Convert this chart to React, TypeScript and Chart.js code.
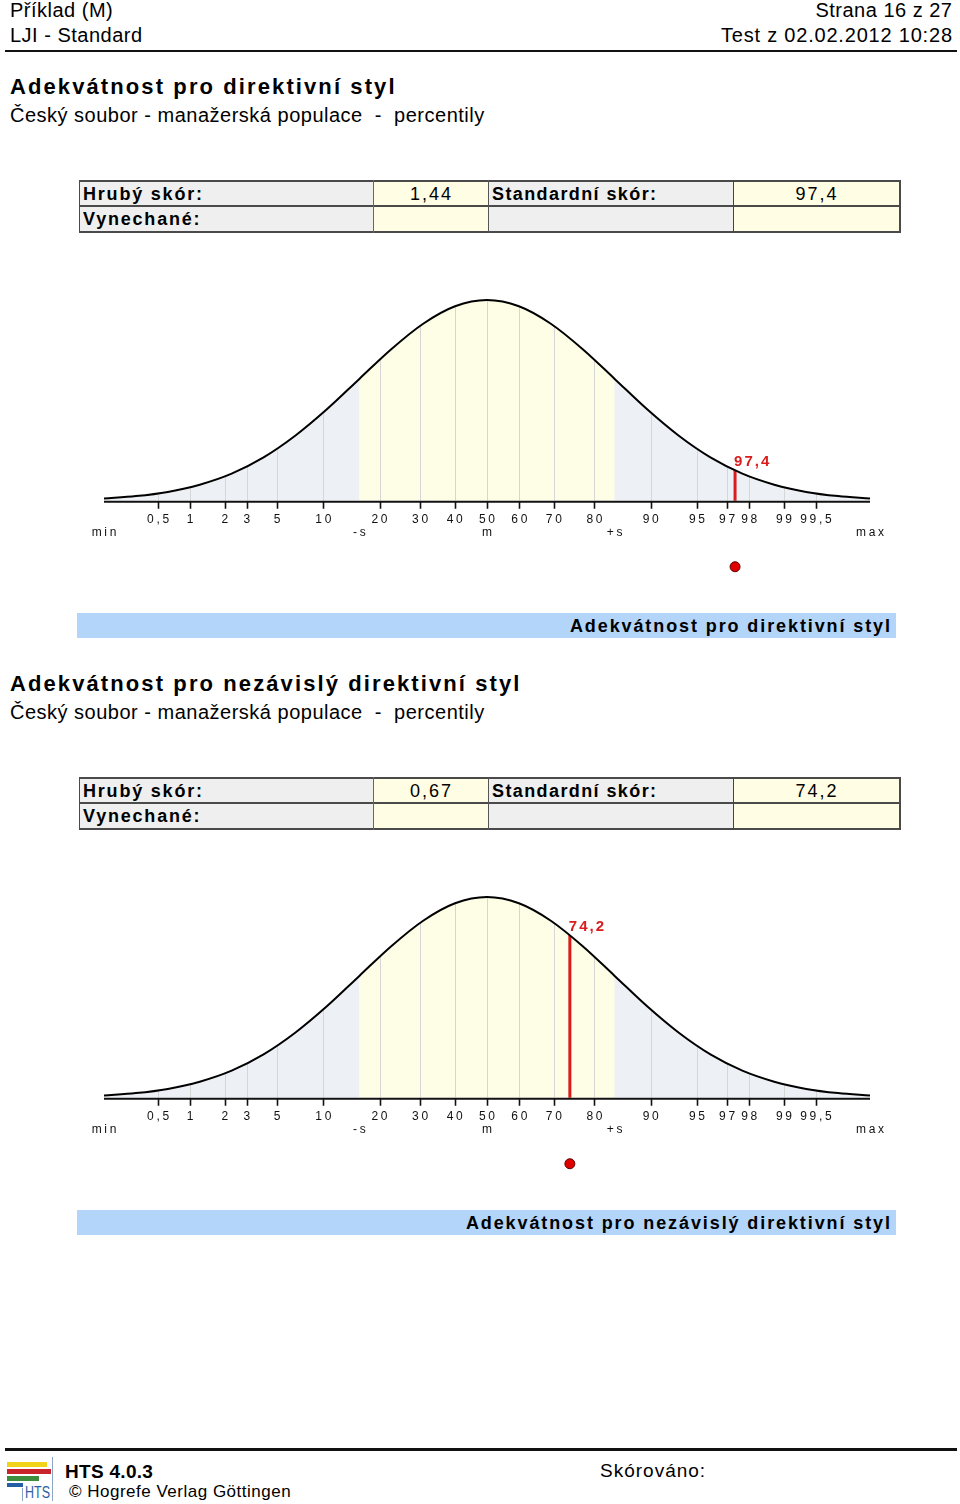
import React, { useEffect, useRef } from "react";
import { Chart, registerables } from "chart.js";

Chart.register(...registerables);

// ---------- data ----------
const curveZ = [-3, -2.75, -2.5, -2.25, -2, -1.75, -1.5, -1.25, -1, -0.75, -0.5, -0.25, 0, 0.25, 0.5, 0.75, 1, 1.25, 1.5, 1.75, 2, 2.25, 2.5, 2.75, 3];
const curveHeight = [0.011, 0.023, 0.044, 0.08, 0.135, 0.216, 0.325, 0.458, 0.607, 0.755, 0.882, 0.969, 1.0, 0.969, 0.882, 0.755, 0.607, 0.458, 0.325, 0.216, 0.135, 0.08, 0.044, 0.023, 0.011];
const percentileLabels = ["0,5", "1", "2", "3", "5", "10", "20", "30", "40", "50", "60", "70", "80", "90", "95", "97", "98", "99", "99,5"];
const percentileZ = [-2.576, -2.326, -2.054, -1.881, -1.645, -1.282, -0.842, -0.524, -0.253, 0, 0.253, 0.524, 0.842, 1.282, 1.645, 1.881, 2.054, 2.326, 2.576];
const markLabels = ["min", "-s", "m", "+s", "max"];
const markZ = [-3, -1, 0, 1, 3];
const bandEdges = [-3, -1, 1, 3];

const scaleTitles = ["Adekvátnost pro direktivní styl", "Adekvátnost pro nezávislý direktivní styl"];
const rawScores = ["1,44", "0,67"];
const standardScores = [97.4, 74.2];
const scoreZ = [1.943, 0.649];

// ---------- style ----------
const FONT = "'Liberation Sans', Arial, Helvetica, sans-serif";
const BAND_COLORS = ["#edf1f6", "#fefde6", "#edf1f6"];
const RED = "#d91c1c";
const DOT_Y = -0.329;

function fmt(v: number) {
  return String(v).replace(".", ",");
}

type TxtProps = {
  x: number;
  base: number;
  size: number;
  bold?: boolean;
  sp?: number;
  align?: "left" | "right" | "center";
  color?: string;
  children: React.ReactNode;
};

function Txt({ x, base, size, bold, sp = 0, align = "left", color = "#000", children }: TxtProps) {
  const top = base - 0.8465 * size;
  const style: any = {
    position: "absolute",
    top,
    fontSize: size,
    lineHeight: size + "px",
    fontWeight: bold ? "bold" : "normal",
    letterSpacing: sp,
    color,
    whiteSpace: "pre",
    fontFamily: FONT,
  };
  if (align === "left") style.left = x;
  else if (align === "right") style.right = 960 - x - sp;
  else {
    style.left = x - 200 + sp / 2;
    style.width = 400;
    style.textAlign = "center";
  }
  return <div style={style}>{children}</div>;
}

function Rect({ x, y, w, h, c }: { x: number; y: number; w: number; h: number; c: string }) {
  return <div style={{ position: "absolute", left: x, top: y, width: w, height: h, background: c }} />;
}

function makePlugin(zScore: number, label: string) {
  let areaPath: Path2D | null = null;
  return {
    id: "normPlugin",
    beforeDatasetsDraw(chart: any) {
      const { ctx, chartArea } = chart;
      const xs = chart.scales.x;
      const ys = chart.scales.y;
      const meta = chart.getDatasetMeta(0);
      const line = meta.dataset;
      if (line && line.updateControlPoints) line.updateControlPoints(chartArea, "x");
      const pts = meta.data as any[];
      const base = ys.getPixelForValue(0);
      const path = new Path2D();
      path.moveTo(pts[0].x, base);
      path.lineTo(pts[0].x, pts[0].y);
      for (let i = 1; i < pts.length; i++) {
        const p = pts[i - 1];
        const c = pts[i];
        if (p.cp2x !== undefined && c.cp1x !== undefined) {
          path.bezierCurveTo(p.cp2x, p.cp2y, c.cp1x, c.cp1y, c.x, c.y);
        } else {
          path.lineTo(c.x, c.y);
        }
      }
      path.lineTo(pts[pts.length - 1].x, base);
      path.closePath();
      areaPath = path;

      ctx.save();
      ctx.clip(path);
      for (let i = 0; i < bandEdges.length - 1; i++) {
        const x0 = xs.getPixelForValue(bandEdges[i]);
        const x1 = xs.getPixelForValue(bandEdges[i + 1]);
        ctx.fillStyle = BAND_COLORS[i];
        ctx.fillRect(x0, chartArea.top - 20, x1 - x0, base - chartArea.top + 20);
      }
      ctx.strokeStyle = "#d6d6d6";
      ctx.lineWidth = 1;
      ctx.beginPath();
      for (const z of percentileZ) {
        const px = Math.round(xs.getPixelForValue(z)) + 0.5;
        ctx.moveTo(px, base);
        ctx.lineTo(px, chartArea.top - 20);
      }
      ctx.stroke();
      // score line
      const sx = xs.getPixelForValue(zScore);
      ctx.strokeStyle = RED;
      ctx.lineWidth = 3;
      ctx.beginPath();
      ctx.moveTo(sx, base + 1);
      ctx.lineTo(sx, chartArea.top - 20);
      ctx.stroke();
      ctx.restore();
    },
    afterDatasetsDraw(chart: any) {
      const { ctx, chartArea } = chart;
      const xs = chart.scales.x;
      const ys = chart.scales.y;
      const base = ys.getPixelForValue(0);
      const x0 = xs.getPixelForValue(-3);
      const x1 = xs.getPixelForValue(3);
      ctx.save();
      // axis line
      ctx.strokeStyle = "#111";
      ctx.lineWidth = 2;
      ctx.beginPath();
      ctx.moveTo(x0, base + 1);
      ctx.lineTo(x1, base + 1);
      ctx.stroke();
      // tick marks
      ctx.lineWidth = 1.6;
      ctx.beginPath();
      for (const z of percentileZ) {
        const px = Math.round(xs.getPixelForValue(z)) + 0.5;
        ctx.moveTo(px, base + 1);
        ctx.lineTo(px, base + 8);
      }
      ctx.stroke();
      // labels
      const sp = 2.7;
      ctx.fillStyle = "#111";
      ctx.font = "12px " + FONT;
      (ctx as any).letterSpacing = sp + "px";
      ctx.textAlign = "center";
      ctx.textBaseline = "alphabetic";
      percentileLabels.forEach((t, i) => {
        ctx.fillText(t, xs.getPixelForValue(percentileZ[i]) + sp / 2, base + 22.5);
      });
      markLabels.forEach((t, i) => {
        ctx.fillText(t, xs.getPixelForValue(markZ[i]) + sp / 2, base + 35);
      });
      // score label
      const sx = xs.getPixelForValue(zScore);
      let top = base;
      if (areaPath) {
        for (let py = chartArea.top - 20; py < base; py += 0.5) {
          if (ctx.isPointInPath(areaPath, sx, py)) {
            top = py;
            break;
          }
        }
      }
      ctx.fillStyle = RED;
      ctx.font = "bold 15px " + FONT;
      (ctx as any).letterSpacing = "2px";
      ctx.textAlign = "left";
      ctx.fillText(label, sx - 1, top - 5);
      (ctx as any).letterSpacing = "0px";
      ctx.restore();
    },
  };
}

function NormChart({ top, zScore, label }: { top: number; zScore: number; label: string }) {
  const ref = useRef<HTMLCanvasElement>(null);
  useEffect(() => {
    const plugin = makePlugin(zScore, label);
    const chart = new Chart(ref.current as HTMLCanvasElement, {
      type: "line",
      data: {
        datasets: [
          {
            data: curveZ.map((z, i) => ({ x: z, y: curveHeight[i] })),
            borderColor: "#000",
            borderWidth: 2,
            pointRadius: 0,
            cubicInterpolationMode: "monotone",
            fill: false,
            clip: false,
          } as any,
          {
            data: [{ x: zScore, y: DOT_Y }],
            showLine: false,
            pointRadius: 5,
            pointBackgroundColor: "#e00000",
            pointBorderColor: "#5a0000",
            pointBorderWidth: 1,
            borderColor: "#5a0000",
            backgroundColor: "#e00000",
            clip: false,
          } as any,
        ],
      },
      options: {
        animation: false,
        responsive: true,
        maintainAspectRatio: false,
        events: [],
        layout: { padding: { left: 104, right: 90, top: 10, bottom: 19 } },
        scales: {
          x: { type: "linear", min: -3, max: 3, display: false },
          y: { type: "linear", min: -0.4, max: 1.05, display: false },
        },
        plugins: { legend: { display: false }, tooltip: { enabled: false } },
      } as any,
      plugins: [plugin as any],
    });
    return () => chart.destroy();
  }, [zScore, label]);
  return (
    <div style={{ position: "absolute", left: 0, top, width: 960, height: 320 }}>
      <canvas ref={ref} />
    </div>
  );
}

function Section({ off, idx }: { off: number; idx: number }) {
  const title = scaleTitles[idx];
  const std = fmt(standardScores[idx]);
  const tTop = 180 + off;
  return (
    <>
      <Txt x={10} base={95 + off} size={22} bold sp={2.1}>{title}</Txt>
      <Txt x={10} base={122 + off} size={20} sp={0.5}>{"Český soubor - manažerská populace  -  percentily"}</Txt>

      {/* table */}
      <Rect x={79} y={tTop} w={294} h={52} c="#efefef" />
      <Rect x={373} y={tTop} w={115} h={52} c="#fffde3" />
      <Rect x={488} y={tTop} w={245} h={52} c="#efefef" />
      <Rect x={733} y={tTop} w={166} h={52} c="#fffde3" />
      <Rect x={79} y={tTop} w={821} h={2} c="#4a4a4a" />
      <Rect x={79} y={tTop + 25} w={821} h={2} c="#4a4a4a" />
      <Rect x={79} y={tTop + 51} w={821} h={2} c="#4a4a4a" />
      <Rect x={78.5} y={tTop} w={1.5} h={53} c="#4a4a4a" />
      <Rect x={373} y={tTop} w={1} h={53} c="#666" />
      <Rect x={488} y={tTop} w={1} h={53} c="#555" />
      <Rect x={733} y={tTop} w={1} h={53} c="#444" />
      <Rect x={899} y={tTop} w={1.5} h={53} c="#4a4a4a" />
      <Txt x={83} base={tTop + 20} size={18} bold sp={1.8}>Hrubý skór:</Txt>
      <Txt x={430.5} base={tTop + 20} size={18} sp={2} align="center">{rawScores[idx]}</Txt>
      <Txt x={492} base={tTop + 20} size={18} bold sp={1.4}>Standardní skór:</Txt>
      <Txt x={816} base={tTop + 20} size={18} sp={2} align="center">{std}</Txt>
      <Txt x={83} base={tTop + 45.5} size={18} bold sp={1.8}>Vynechané:</Txt>

      <NormChart top={280 + off} zScore={scoreZ[idx]} label={std} />

      <Rect x={77} y={613 + off} w={819} h={25} c="#b3d5f9" />
      <Txt x={890} base={632 + off} size={18} bold sp={1.9} align="right">{title}</Txt>
    </>
  );
}

export default function App() {
  return (
    <div style={{ position: "absolute", left: 0, top: 0, width: 960, height: 1504, background: "#fff", overflow: "hidden", fontFamily: FONT }}>
      {/* header */}
      <Txt x={10} base={17} size={20} sp={0.5}>Příklad (M)</Txt>
      <Txt x={952} base={17} size={20} sp={0.5} align="right">Strana 16 z 27</Txt>
      <Txt x={10} base={42} size={20} sp={0.5}>LJI - Standard</Txt>
      <Txt x={952} base={42} size={20} sp={0.8} align="right">Test z 02.02.2012 10:28</Txt>
      <Rect x={5} y={49.5} w={952} h={2.5} c="#111" />

      <Section off={0} idx={0} />
      <Section off={597} idx={1} />

      {/* footer */}
      <Rect x={5} y={1448} w={952} h={2.5} c="#111" />
      <Rect x={7} y={1462} w={40} h={4.5} c="#f2d31b" />
      <Rect x={7} y={1469} w={44} h={4.5} c="#c9242b" />
      <Rect x={7} y={1476} w={32} h={4.5} c="#3d8f3d" />
      <Rect x={7} y={1482.5} w={16} h={4.5} c="#245fa6" />
      <Rect x={51.5} y={1457} w={1.2} h={44} c="#8aa6c4" />
      <Rect x={22} y={1488} w={1.2} h={13} c="#8aa6c4" />
      <div style={{ position: "absolute", left: 25, top: 1485, fontSize: 16, lineHeight: "16px", color: "#2d5fa5", fontFamily: FONT, transform: "scaleX(0.78)", transformOrigin: "left" }}>HTS</div>
      <Txt x={65} base={1478} size={19} bold sp={0.3}>HTS 4.0.3</Txt>
      <Txt x={69} base={1497} size={17} sp={0.5}>© Hogrefe Verlag Göttingen</Txt>
      <Txt x={600} base={1477} size={19} sp={1}>Skórováno:</Txt>
    </div>
  );
}
